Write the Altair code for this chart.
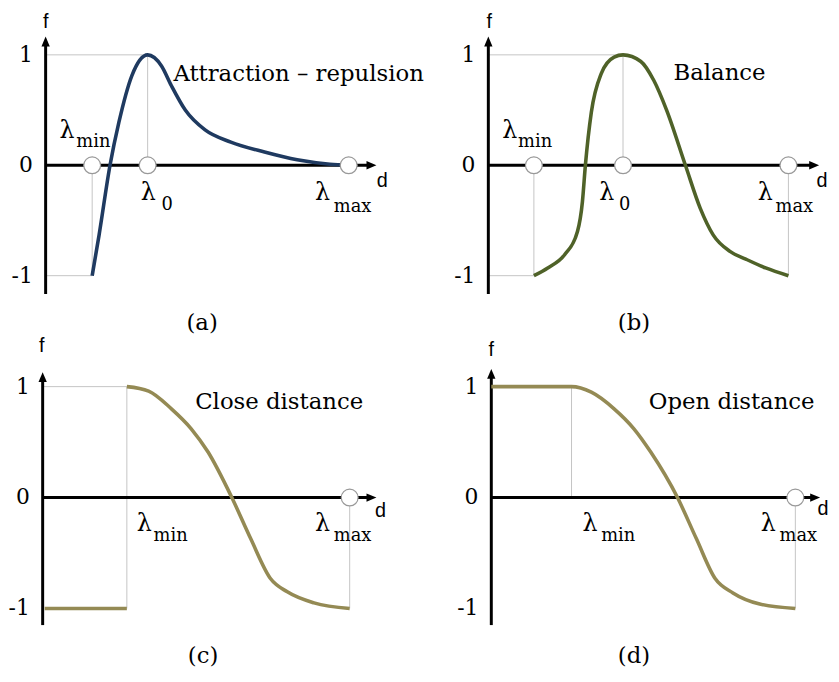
import altair as alt
import pandas as pd

# ---------------- curve values (d, f) ----------------
A_D = [0.47, 0.54, 0.65, 0.74, 0.87, 1.03, 1.17, 1.27, 1.41, 1.61, 1.87, 2.21, 2.54, 2.87, 3.06]
A_F = [-1, -0.63, 0, 0.39, 0.81, 1, 0.9, 0.72, 0.5, 0.32, 0.21, 0.12, 0.05, 0.01, 0]

B_D = [0.46, 0.60, 0.77, 0.90, 0.95, 0.98, 1.04, 1.14, 1.27, 1.36, 1.54, 1.67, 1.80, 1.99,
       2.14, 2.27, 2.44, 2.60, 2.80, 3.03]
B_F = [-1, -0.93, -0.81, -0.6, -0.33, 0, 0.48, 0.83, 0.98, 1, 0.94, 0.77, 0.5, 0,
       -0.39, -0.63, -0.78, -0.85, -0.93, -1]

C_FLAT_D = [0.02, 0.85]
C_FLAT_F = [-1, -1]
C_D = [0.85, 1.07, 1.30, 1.50, 1.67, 1.91, 2.10, 2.30, 2.47, 2.74, 3.10]
C_F = [1, 0.96, 0.80, 0.62, 0.41, 0, -0.37, -0.73, -0.85, -0.95, -1]

D_D = [0.0, 0.81, 1.01, 1.24, 1.44, 1.61, 1.88, 2.07, 2.26, 2.44, 2.71, 3.07]
D_F = [1, 1, 0.95, 0.80, 0.62, 0.41, 0, -0.37, -0.73, -0.86, -0.96, -1]

# lambda positions on the d axis
LAM_A = {"min": 0.47, "0": 1.03, "max": 3.06}
LAM_B = {"min": 0.46, "0": 1.36, "max": 3.03}
LAM_C = {"min": 0.85, "max": 3.10}
LAM_D = {"min": 0.81, "max": 3.07}

TITLES = ["Attraction \u2013 repulsion", "Balance", "Close distance", "Open distance"]
CAPTIONS = ["(a)", "(b)", "(c)", "(d)"]
TICK_VALUES = [1, 0, -1]
TICK_LABELS = ["1", "0", "-1"]
COLORS = ["#1f3a60", "#4f6228", "#948a54", "#948a54"]

SERIF = "DejaVu Serif"
SANS = "Liberation Sans"


def make_panel(i, curves, lam, circles, guides, xdom, ydom, width, height,
               ytop, ybot, xtip, title_pos, cap_pos, f_pos, d_pos, lam_labels, px_per_unit):
    xs = alt.Scale(domain=xdom, nice=False, zero=False)
    ys = alt.Scale(domain=ydom, nice=False, zero=False)

    def X(field="d"):
        return alt.X(f"{field}:Q", scale=xs, axis=None)

    def Y(field="f"):
        return alt.Y(f"{field}:Q", scale=ys, axis=None)

    layers = []

    # light grey guide lines
    gdf = pd.DataFrame(guides, columns=["d", "f", "d2", "f2"])
    layers.append(alt.Chart(gdf).mark_rule(color="#c4c4c4", strokeWidth=1).encode(
        x=X(), y=Y(), x2="d2:Q", y2="f2:Q"))

    # axes
    off_y = 7 / px_per_unit[1]
    off_x = 7 / px_per_unit[0]
    adf = pd.DataFrame({"d": [0, 0], "f": [ybot, 0], "d2": [0, xtip - off_x], "f2": [ytop - off_y, 0]})
    layers.append(alt.Chart(adf).mark_rule(color="black", strokeWidth=3).encode(
        x=X(), y=Y(), x2="d2:Q", y2="f2:Q"))
    layers.append(alt.Chart(pd.DataFrame({"d": [0], "f": [ytop]})).mark_point(
        shape="M0,0 L-0.42,1 L0.42,1 Z", filled=True, color="black", size=400, opacity=1,
        strokeWidth=0).encode(x=X(), y=Y()))
    layers.append(alt.Chart(pd.DataFrame({"d": [xtip], "f": [0]})).mark_point(
        shape="M0,0 L-1,-0.42 L-1,0.42 Z", filled=True, color="black", size=400, opacity=1,
        strokeWidth=0).encode(x=X(), y=Y()))

    # curves
    rows = []
    for seg, (ds, fs) in enumerate(curves):
        for d, f in zip(ds, fs):
            rows.append({"d": d, "f": f, "seg": seg})
    cdf = pd.DataFrame(rows)
    layers.append(alt.Chart(cdf).mark_line(color=COLORS[i], strokeWidth=3.6, interpolate="monotone",
                                           strokeCap="butt").encode(
        x=X(), y=Y(), detail="seg:N", order="d:Q"))

    # circles
    if circles:
        odf = pd.DataFrame({"d": [lam[k] for k in circles], "f": [0] * len(circles)})
        layers.append(alt.Chart(odf).mark_circle(size=290, fill="white", stroke="#999999",
                                                 strokeWidth=1.2, opacity=1).encode(x=X(), y=Y()))

    # tick labels
    tdf = pd.DataFrame({"d": [0] * 3, "f": TICK_VALUES, "t": TICK_LABELS})
    layers.append(alt.Chart(tdf).mark_text(font=SERIF, fontSize=22, align="right", baseline="middle",
                                           dx=-13, color="black").encode(x=X(), y=Y(), text="t:N"))

    # f and d labels
    sdf = pd.DataFrame({"d": [f_pos[0], d_pos[0]], "f": [f_pos[1], d_pos[1]], "t": ["f", "d"]})
    layers.append(alt.Chart(sdf).mark_text(font=SANS, fontSize=20, align="center", baseline="middle",
                                           color="black").encode(x=X(), y=Y(), text="t:N"))

    # lambda symbols + subscripts
    ldf = pd.DataFrame([{"d": l[1], "f": l[2], "t": "\u03bb"} for l in lam_labels])
    layers.append(alt.Chart(ldf).mark_text(font=SERIF, fontSize=24, align="left",
                                           baseline="alphabetic", color="black").encode(
        x=X(), y=Y(), text="t:N"))
    sbdf = pd.DataFrame([{"d": l[3], "f": l[4], "t": l[0]} for l in lam_labels])
    layers.append(alt.Chart(sbdf).mark_text(font=SERIF, fontSize=18, align="left",
                                            baseline="alphabetic", color="black").encode(
        x=X(), y=Y(), text="t:N"))

    # title
    ttdf = pd.DataFrame({"d": [title_pos[0]], "f": [title_pos[1]], "t": [TITLES[i]]})
    layers.append(alt.Chart(ttdf).mark_text(font=SERIF, fontSize=23, align="left",
                                            baseline="alphabetic", color="black").encode(
        x=X(), y=Y(), text="t:N"))

    # caption
    cpdf = pd.DataFrame({"d": [cap_pos[0]], "f": [cap_pos[1]], "t": [CAPTIONS[i]]})
    layers.append(alt.Chart(cpdf).mark_text(font=SERIF, fontSize=23, align="center",
                                            baseline="middle", color="black").encode(
        x=X(), y=Y(), text="t:N"))

    return alt.layer(*layers).properties(width=width, height=height)


TOP_Y = [-1.583, 1.395]
BOT_Y = [-1.634, 1.42]

pa = make_panel(
    0, [(A_D, A_F)], LAM_A, ["min", "0", "max"],
    [(0, 1, LAM_A["0"], 1), (LAM_A["0"], 0, LAM_A["0"], 1),
     (0, -1, LAM_A["min"], -1), (LAM_A["min"], -1, LAM_A["min"], 0)],
    [-0.38, 3.74], TOP_Y, 412, 332, 1.166, -1.166, 3.34,
    (1.29, 0.762), (1.58, -1.426), (0.0, 1.30), (3.40, -0.139),
    [("min", 0.14, 0.25, 0.31, 0.161), ("0", 0.96, -0.314, 1.17, -0.404),
     ("max", 2.72, -0.314, 2.91, -0.422)],
    (100, 111.5))

pb = make_panel(
    1, [(B_D, B_F)], LAM_B, ["min", "0", "max"],
    [(0, 1, LAM_B["0"], 1), (LAM_B["0"], 0, LAM_B["0"], 1),
     (0, -1, LAM_B["min"], -1), (LAM_B["min"], -1, LAM_B["min"], 0),
     (LAM_B["max"], -1, LAM_B["max"], 0)],
    [-0.73, 3.46], TOP_Y, 419, 332, 1.166, -1.166, 3.34,
    (1.87, 0.774), (1.47, -1.426), (0.01, 1.30), (3.37, -0.139),
    [("min", 0.14, 0.25, 0.30, 0.161), ("0", 1.12, -0.314, 1.32, -0.404),
     ("max", 2.72, -0.314, 2.90, -0.422)],
    (100, 111.5))

pc = make_panel(
    2, [(C_FLAT_D, C_FLAT_F), (C_D, C_F)], LAM_C, ["max"],
    [(0, 1, LAM_C["min"], 1), (LAM_C["min"], -1, LAM_C["min"], 1),
     (LAM_C["max"], -1, LAM_C["max"], 0)],
    [-0.35, 3.77], BOT_Y, 412, 342, 1.13, -1.15, 3.37,
    (1.54, 0.795), (1.62, -1.43), (-0.01, 1.366), (3.41, -0.12),
    [("min", 0.95, -0.30, 1.12, -0.393), ("max", 2.75, -0.30, 2.94, -0.393)],
    (100, 112))

pd_ = make_panel(
    3, [(D_D, D_F)], LAM_D, ["max"],
    [(LAM_D["min"], 0, LAM_D["min"], 1), (LAM_D["max"], -1, LAM_D["max"], 0)],
    [-0.76, 3.43], BOT_Y, 419, 342, 1.16, -1.15, 3.32,
    (1.59, 0.795), (1.44, -1.43), (0.0, 1.33), (3.35, -0.10),
    [("min", 0.92, -0.30, 1.11, -0.393), ("max", 2.72, -0.30, 2.91, -0.393)],
    (100, 112))

chart = alt.concat(
    pa, pb, pc, pd_, columns=2, spacing=0, bounds="flush", align="each",
).properties(padding=0).configure_view(stroke=None)

chart.save("out.html", embed_options={"renderer": "svg", "actions": False})
